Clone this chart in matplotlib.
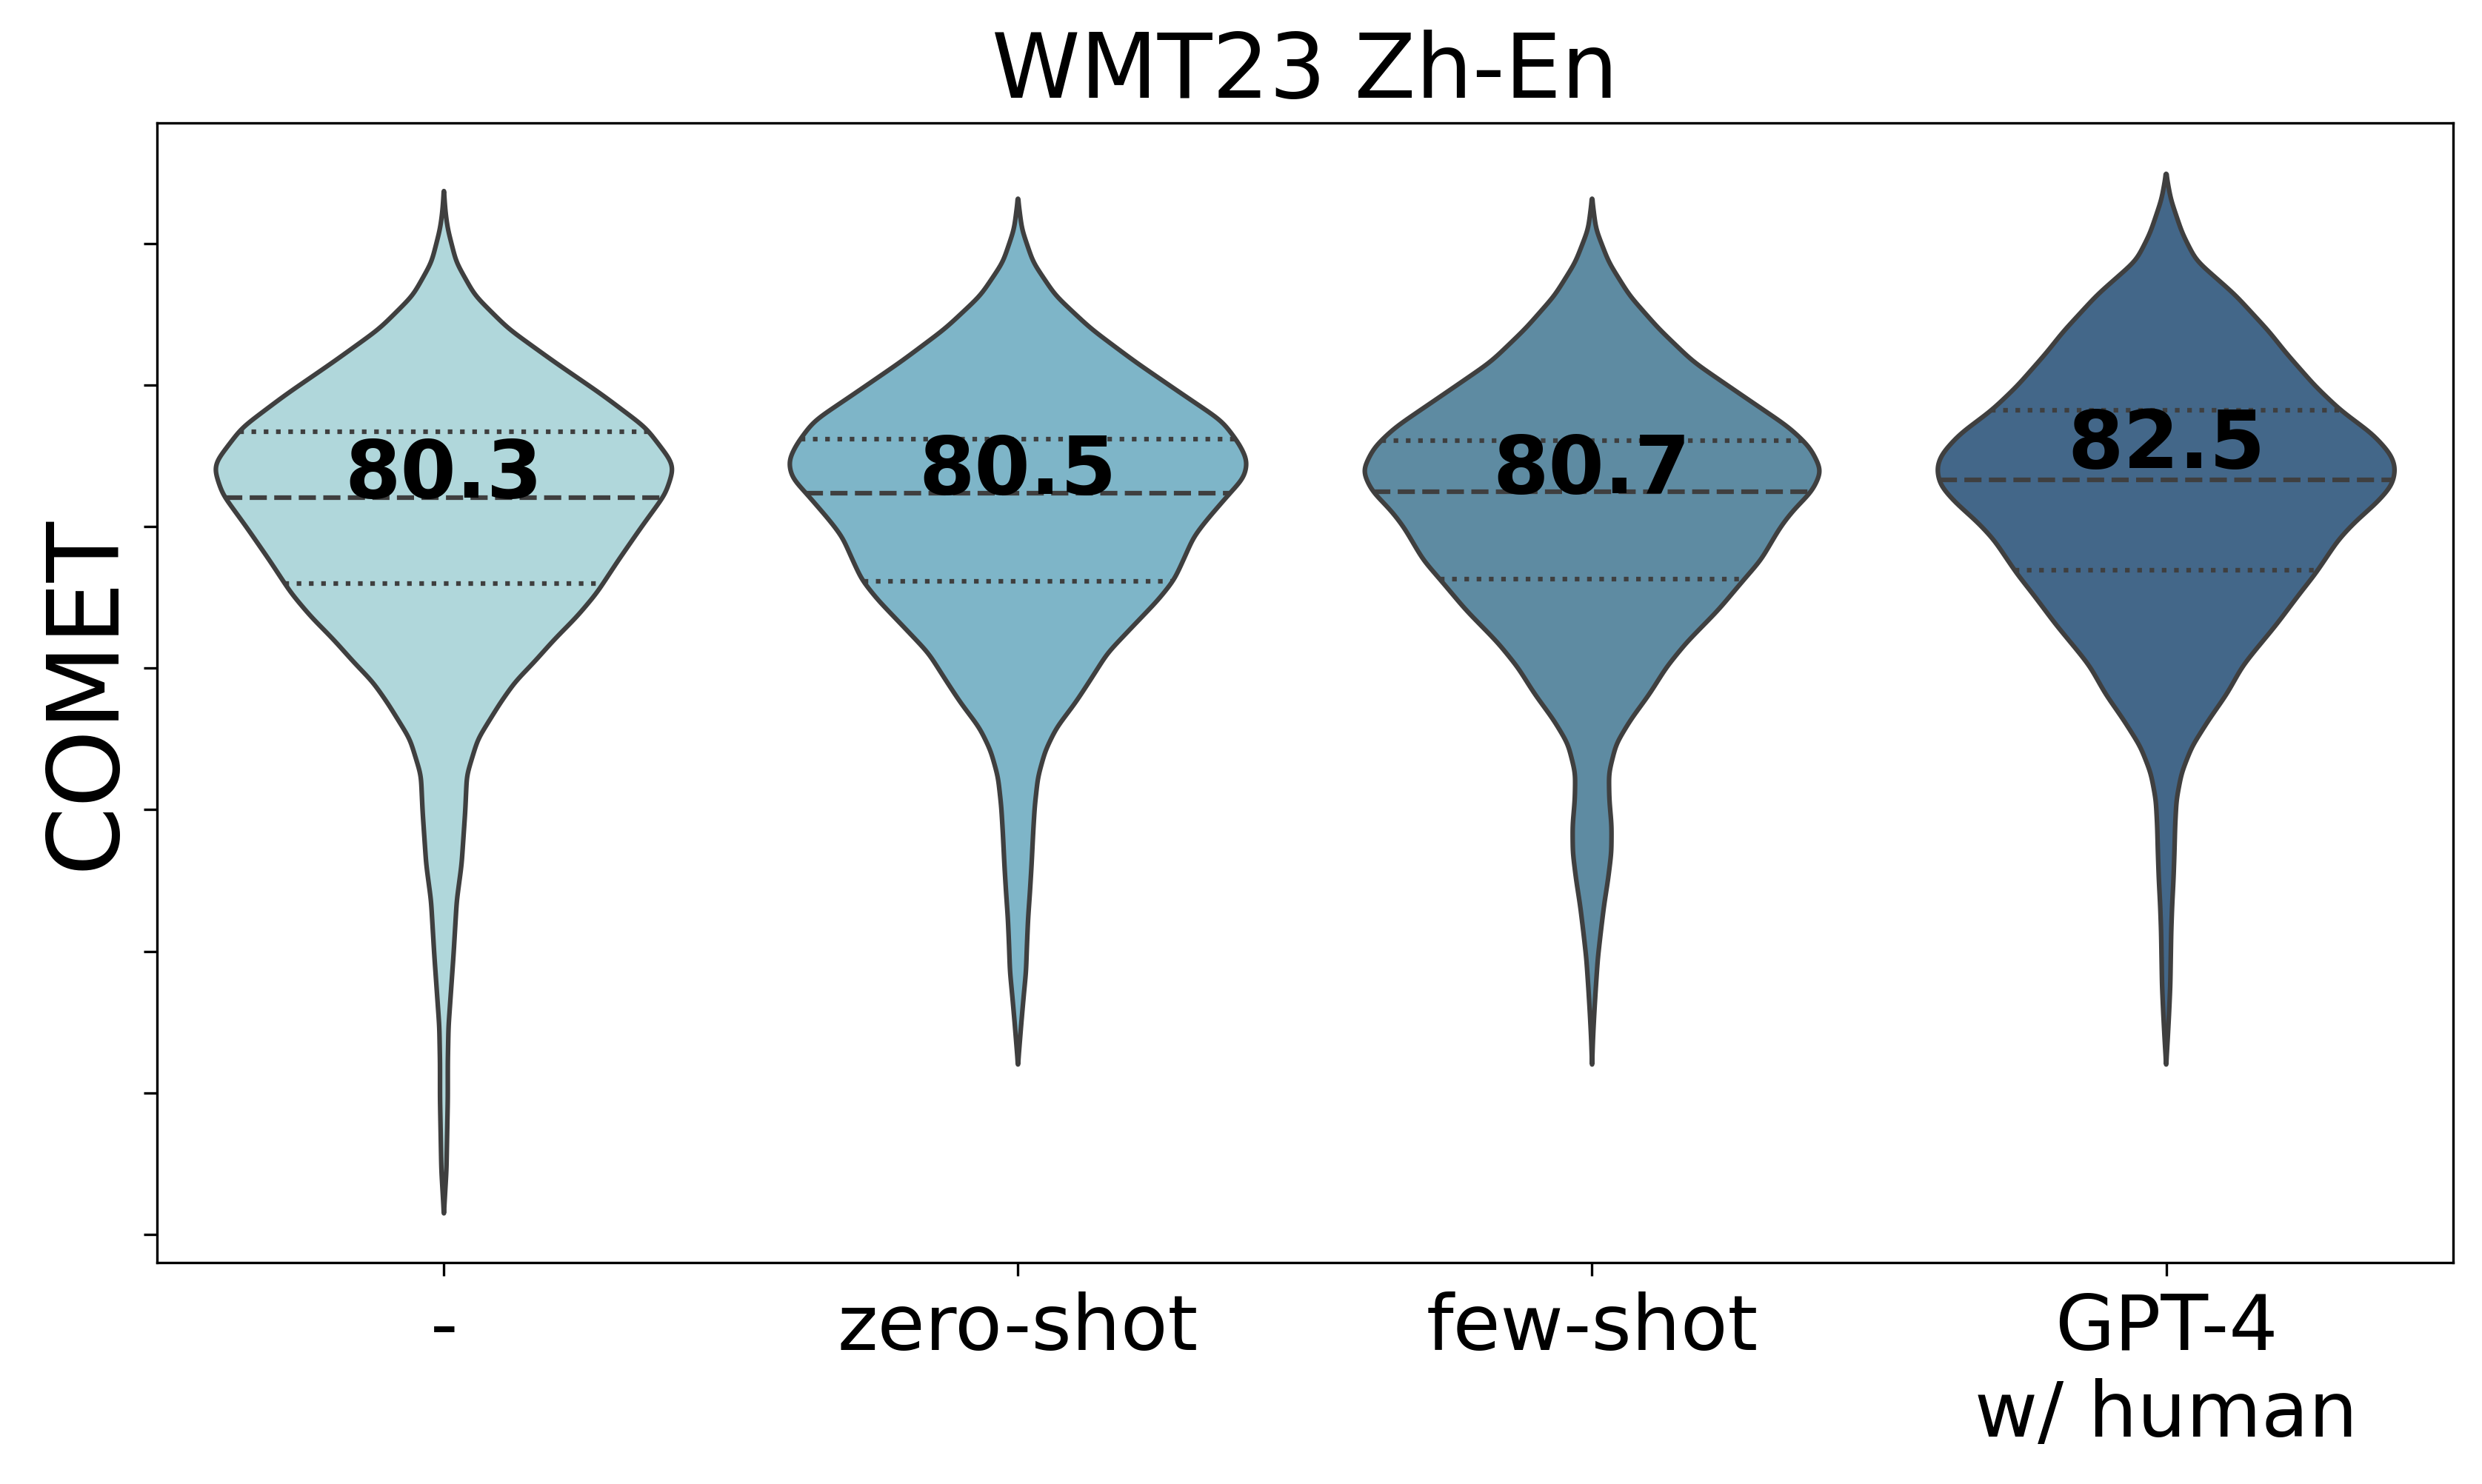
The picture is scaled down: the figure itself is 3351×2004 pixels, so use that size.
import numpy as np
import matplotlib.pyplot as plt

# categories and the numbers written on the violins
labels = ['-', 'zero-shot', 'few-shot', 'GPT-4\nw/ human']
scores = ['80.3', '80.5', '80.7', '82.5']
score_y = [81.02, 81.16, 81.19, 82.07]   # baseline of the score text

colors = ['#b0d7db', '#7eb5c8', '#5e8ba2', '#436789']
edge = '#3f3f3f'

# violin outlines: COMET level -> relative half-width
v1_y = [91.86, 91.09, 90.51, 89.34, 88.17, 87.00, 85.83, 84.66, 83.50, 82.33, 82.03, 81.16,
        79.99, 78.82, 77.65, 76.83, 76.01, 75.19, 74.52, 73.77, 72.50, 71.23, 69.96, 68.06,
        66.79, 64.88, 63.61, 62.34, 61.07, 59.80, 57.27, 55.74]
v1_w = [0, 0.007, 0.017, 0.054, 0.135, 0.28, 0.48, 0.69, 0.88, 0.99, 1.0, 0.965,
        0.86, 0.76, 0.665, 0.58, 0.48, 0.39, 0.31, 0.245, 0.148, 0.10, 0.093, 0.077,
        0.056, 0.042, 0.031, 0.02, 0.017, 0.017, 0.011, 0]

v2_y = [91.59, 90.51, 89.34, 88.17, 87.00, 85.83, 84.66, 83.73, 82.91, 82.33, 81.74, 81.16,
        80.22, 79.64, 78.82, 78.12, 77.41, 76.48, 75.54, 74.52, 73.78, 72.89, 72.09, 71.16,
        70.13, 69.19, 68.03, 67.09, 66.16, 65.22, 64.29, 63.35, 62.42, 61.00]
v2_w = [0, 0.017, 0.066, 0.163, 0.317, 0.51, 0.72, 0.89, 0.965, 1.0, 0.986, 0.92,
        0.82, 0.765, 0.72, 0.68, 0.61, 0.50, 0.39, 0.31, 0.25, 0.167, 0.119, 0.087,
        0.073, 0.066, 0.059, 0.052, 0.044, 0.039, 0.035, 0.024, 0.014, 0]

v3_y = [91.59, 90.51, 89.34, 88.17, 87.00, 85.83, 84.66, 83.50, 82.80, 81.98, 81.27, 80.57,
        79.99, 78.82, 78.12, 77.06, 75.90, 75.04, 74.10, 73.17, 72.33, 71.30, 70.36, 69.43,
        68.49, 67.56, 66.62, 65.69, 64.75, 63.81, 62.88, 61.94, 61.00]
v3_w = [0, 0.017, 0.073, 0.163, 0.29, 0.44, 0.65, 0.86, 0.95, 1.0, 0.96, 0.875,
        0.82, 0.735, 0.66, 0.55, 0.41, 0.324, 0.251, 0.167, 0.105, 0.073, 0.075, 0.085,
        0.084, 0.070, 0.052, 0.038, 0.025, 0.017, 0.010, 0.004, 0]

v4_y = [92.47, 91.57, 90.37, 89.41, 88.20, 86.88, 86.16, 84.96, 84.11, 83.27, 82.55, 82.07,
        81.47, 80.87, 80.15, 79.54, 78.94, 78.34, 77.62, 76.54, 75.46, 75.04, 74.10, 73.17,
        72.23, 71.30, 70.36, 69.43, 68.49, 67.56, 66.62, 65.69, 64.75, 63.81, 62.88, 61.94, 61.00]
v4_w = [0, 0.02, 0.07, 0.13, 0.30, 0.45, 0.52, 0.65, 0.76, 0.90, 0.98, 1.0,
        0.985, 0.92, 0.82, 0.75, 0.70, 0.65, 0.58, 0.48, 0.37, 0.33, 0.265, 0.185,
        0.112, 0.067, 0.045, 0.039, 0.036, 0.032, 0.026, 0.022, 0.02, 0.018, 0.013, 0.007, 0]

# quartiles (q1, median, q3)
quarts = [[78.00, 81.04, 83.36],
          [78.06, 81.18, 83.09],
          [78.14, 81.24, 83.05],
          [78.46, 81.65, 84.11]]

profiles = [(v1_y, v1_w), (v2_y, v2_w), (v3_y, v3_w), (v4_y, v4_w)]
half_max = 0.4


def smooth_outline(ys, ws, sigma=0.22):
    ys = np.array(ys)
    ws = np.array(ws)
    order = np.argsort(ys)
    grid = np.linspace(ys.min(), ys.max(), 1500)
    w = np.interp(grid, ys[order], ws[order])
    step = grid[1] - grid[0]
    n = int(4 * sigma / step)
    k = np.exp(-0.5 * (np.arange(-n, n + 1) * step / sigma) ** 2)
    k /= k.sum()
    w = np.convolve(np.pad(w, n, mode='edge'), k, mode='valid')
    w[0] = 0
    w[-1] = 0
    return grid, w


fig = plt.figure(figsize=(3351 / 300, 2004 / 300), dpi=300)
ax = fig.add_axes([0.0632, 0.1492, 0.9252, 0.7682])

for i, (ys, ws) in enumerate(profiles):
    grid, w = smooth_outline(ys, ws)
    hw = w * half_max
    xs = np.concatenate([i + hw, (i - hw)[::-1]])
    yy = np.concatenate([grid, grid[::-1]])
    ax.fill(xs, yy, facecolor=colors[i], edgecolor=edge, lw=1.5, joinstyle='round', zorder=2)
    # quartile lines clipped to the violin
    for q, ls in zip(quarts[i], [':', '--', ':']):
        h = np.interp(q, grid, hw)
        ax.plot([i - h, i + h], [q, q], color=edge, lw=1.5, ls=ls, zorder=3)
    ax.text(i, score_y[i], scores[i], ha='center', va='baseline',
            fontsize=26, fontweight='bold', color='black', zorder=4)

ax.set_xlim(-0.5, 3.5)
ax.set_ylim(54.0, 94.28)
ax.set_xticks(range(len(labels)))
ax.set_xticklabels(labels, fontsize=25)
ax.set_yticks(np.arange(55, 91, 5))
ax.set_yticklabels([])
ax.tick_params(axis='both', length=4.4, width=0.8)
ax.tick_params(axis='x', pad=5)
ax.set_ylabel('COMET', fontsize=32)
ax.yaxis.set_label_coords(-0.0097, 0.5)
ax.set_title('WMT23 Zh-En', fontsize=29, pad=8)

fig.savefig('out.png', dpi=300)
